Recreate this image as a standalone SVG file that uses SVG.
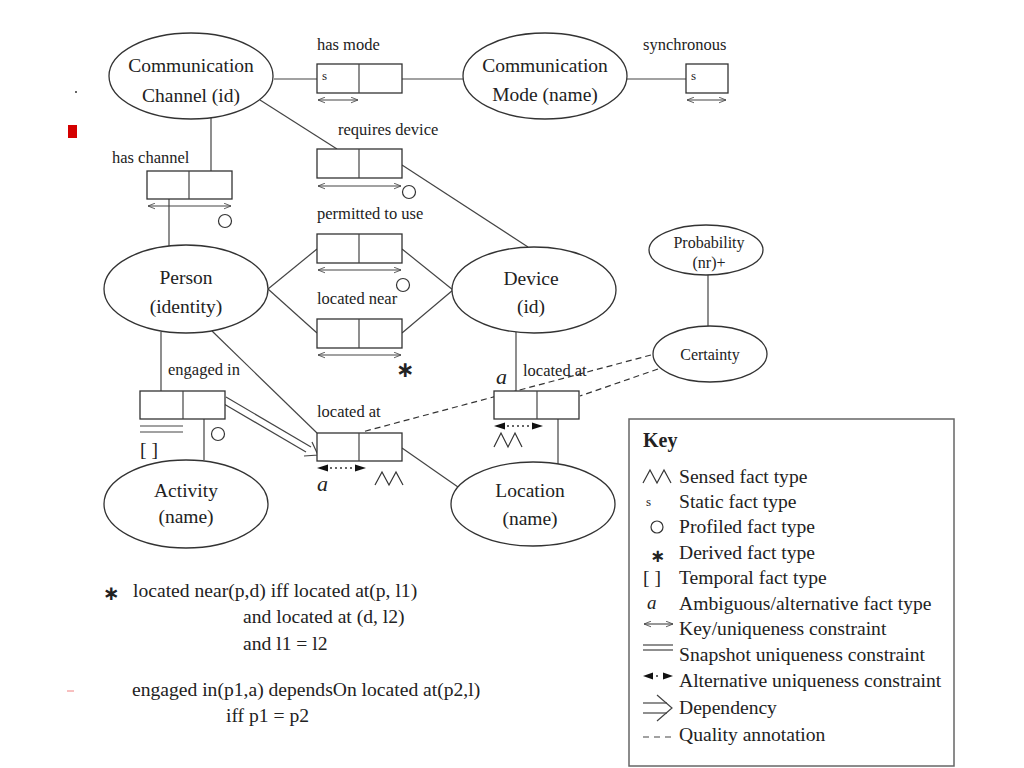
<svg xmlns="http://www.w3.org/2000/svg" width="1024" height="768" viewBox="0 0 1024 768">
<style>
  .ell{fill:#fff;stroke:#333;stroke-width:1.3}
  .box{fill:#fff;stroke:#333;stroke-width:1.3}
  .ln{fill:none;stroke:#444;stroke-width:1.2}
  .dash{fill:none;stroke:#333;stroke-width:1.2;stroke-dasharray:6,4}
  .et{font-family:"Liberation Serif","Times New Roman",serif;font-size:19.5px;fill:#222;text-anchor:middle}
  .lb{font-family:"Liberation Serif","Times New Roman",serif;font-size:16.5px;fill:#222}
  .sm{font-family:"Liberation Serif","Times New Roman",serif;font-size:13px;fill:#222}
  .kt{font-family:"Liberation Serif","Times New Roman",serif;font-size:19.6px;fill:#222}
  .it{font-family:"Liberation Serif","Times New Roman",serif;font-size:22px;font-style:italic;fill:#222}
  .ast{font-family:"DejaVu Sans",sans-serif;font-size:22px;font-weight:bold;fill:#222}
  .uq{fill:none;stroke:#444;stroke-width:1.1;marker-start:url(#oa);marker-end:url(#oa)}
  .zz{fill:none;stroke:#333;stroke-width:1.2}
  .dot{fill:none;stroke:#333;stroke-width:1.3;stroke-dasharray:2,3}
  .tri{fill:#111}
  .circ{fill:#fff;stroke:#333;stroke-width:1.2}
</style>
<defs>
  <marker id="oa" viewBox="0 0 10 10" refX="10" refY="5" markerWidth="9" markerHeight="7" markerUnits="userSpaceOnUse" orient="auto-start-reverse">
    <path d="M0,1 L10,5 L0,9" fill="none" stroke="#444" stroke-width="1.2"/>
  </marker>
</defs>
<rect width="1024" height="768" fill="#fff"/>

<!-- artifacts -->
<rect x="68" y="125" width="9" height="13" fill="#d40000"/>
<rect x="75" y="91" width="2" height="2" fill="#666"/>
<line x1="67" y1="691" x2="74" y2="691" stroke="#f08080" stroke-width="1"/>

<g id="connectors">
  <line class="ln" x1="274" y1="79" x2="317" y2="79"/>
  <line class="ln" x1="402" y1="79" x2="463" y2="79"/>
  <line class="ln" x1="627" y1="79" x2="686" y2="79"/>
  <line class="ln" x1="260" y1="100" x2="337" y2="149"/>
  <line class="ln" x1="402" y1="165" x2="528" y2="247"/>
  <line class="ln" x1="211" y1="117" x2="211" y2="171"/>
  <line class="ln" x1="169" y1="199" x2="169" y2="246"/>
  <line class="ln" x1="268" y1="289" x2="317" y2="249"/>
  <line class="ln" x1="268" y1="289" x2="317" y2="333"/>
  <line class="ln" x1="402" y1="249" x2="453" y2="290"/>
  <line class="ln" x1="402" y1="333" x2="453" y2="290"/>
  <line class="ln" x1="161" y1="332" x2="161" y2="391"/>
  <line class="ln" x1="204" y1="419" x2="204" y2="460"/>
  <line class="ln" x1="212" y1="331" x2="317" y2="433"/>
  <line class="ln" x1="402" y1="448" x2="458" y2="487"/>
  <line class="ln" x1="516" y1="332" x2="516" y2="391"/>
  <line class="ln" x1="558" y1="419" x2="558" y2="464"/>
  <line class="ln" x1="708" y1="275" x2="708" y2="326"/>
  <line class="dash" x1="651" y1="355" x2="362" y2="432"/>
  <line class="dash" x1="658" y1="369" x2="580" y2="396"/>
  <!-- dependency -->
  <line class="ln" x1="226" y1="397" x2="311" y2="447"/>
  <line class="ln" x1="224" y1="404" x2="306" y2="452"/>
  <polyline class="ln" points="312,442 318,455 304,456"/>
</g>

<g id="comm-channel">
  <ellipse class="ell" cx="191" cy="76" rx="82" ry="43"/>
  <text class="et" x="191" y="72">Communication</text>
  <text class="et" x="191" y="102">Channel (id)</text>
</g>
<g id="comm-mode">
  <ellipse class="ell" cx="545" cy="76" rx="82" ry="43"/>
  <text class="et" x="545" y="72">Communication</text>
  <text class="et" x="545" y="101">Mode (name)</text>
</g>
<g id="person">
  <ellipse class="ell" cx="186" cy="289" rx="82" ry="44"/>
  <text class="et" x="186" y="284">Person</text>
  <text class="et" x="186" y="313">(identity)</text>
</g>
<g id="device">
  <ellipse class="ell" cx="534" cy="290" rx="82" ry="43"/>
  <text class="et" x="531" y="285">Device</text>
  <text class="et" x="531" y="313">(id)</text>
</g>
<g id="activity">
  <ellipse class="ell" cx="186" cy="504" rx="82" ry="44"/>
  <text class="et" x="186" y="497">Activity</text>
  <text class="et" x="186" y="523">(name)</text>
</g>
<g id="location">
  <ellipse class="ell" cx="533" cy="504" rx="82" ry="42"/>
  <text class="et" x="530" y="497">Location</text>
  <text class="et" x="530" y="525">(name)</text>
</g>
<g id="probability">
  <ellipse class="ell" cx="706" cy="250" rx="57" ry="25"/>
  <text class="et" style="font-size:16px" x="709" y="248">Probability</text>
  <text class="et" style="font-size:16px" x="709" y="268">(nr)+</text>
</g>
<g id="certainty">
  <ellipse class="ell" cx="710" cy="354" rx="57" ry="28"/>
  <text class="et" style="font-size:16px" x="710" y="360">Certainty</text>
</g>

<g id="has-mode">
  <text class="lb" x="317" y="50">has mode</text>
  <rect class="box" x="317" y="64" width="85" height="29"/>
  <line class="ln" x1="359" y1="64" x2="359" y2="93"/>
  <text class="sm" x="322" y="80">s</text>
  <line class="uq" x1="318" y1="100" x2="358" y2="100"/>
</g>
<g id="synchronous">
  <text class="lb" x="643" y="50">synchronous</text>
  <rect class="box" x="686" y="64" width="42" height="29"/>
  <text class="sm" x="691" y="80">s</text>
  <line class="uq" x1="687" y1="100" x2="726" y2="100"/>
</g>
<g id="requires-device">
  <text class="lb" x="338" y="135">requires device</text>
  <rect class="box" x="317" y="149" width="85" height="29"/>
  <line class="ln" x1="359" y1="149" x2="359" y2="178"/>
  <line class="uq" x1="318" y1="186" x2="401" y2="186"/>
  <circle class="circ" cx="409" cy="192" r="6.5"/>
</g>
<g id="has-channel">
  <text class="lb" x="112" y="163">has channel</text>
  <rect class="box" x="147" y="171" width="85" height="28"/>
  <line class="ln" x1="189" y1="171" x2="189" y2="199"/>
  <line class="uq" x1="148" y1="206" x2="231" y2="206"/>
  <circle class="circ" cx="225" cy="221" r="6.5"/>
</g>
<g id="permitted-to-use">
  <text class="lb" x="317" y="219">permitted to use</text>
  <rect class="box" x="317" y="234" width="85" height="29"/>
  <line class="ln" x1="359" y1="234" x2="359" y2="263"/>
  <line class="uq" x1="318" y1="270" x2="401" y2="270"/>
  <circle class="circ" cx="403" cy="285" r="6.5"/>
</g>
<g id="located-near">
  <text class="lb" x="317" y="304">located near</text>
  <rect class="box" x="317" y="319" width="85" height="29"/>
  <line class="ln" x1="359" y1="319" x2="359" y2="348"/>
  <line class="uq" x1="318" y1="355" x2="401" y2="355"/>
  <text class="ast" x="396" y="377">∗</text>
</g>
<g id="engaged-in">
  <text class="lb" x="168" y="375">engaged in</text>
  <rect class="box" x="140" y="391" width="85" height="28"/>
  <line class="ln" x1="183" y1="391" x2="183" y2="419"/>
  <line class="ln" x1="140" y1="426" x2="183" y2="426"/>
  <line class="ln" x1="140" y1="432" x2="183" y2="432"/>
  <text class="kt" x="140" y="456">[ ]</text>
  <circle class="circ" cx="218" cy="434" r="6.5"/>
</g>
<g id="person-located-at">
  <text class="lb" x="317" y="417">located at</text>
  <rect class="box" x="317" y="433" width="85" height="28"/>
  <line class="ln" x1="359" y1="433" x2="359" y2="461"/>
  <polygon class="tri" points="317,468 328,464.5 328,471.5"/>
  <polygon class="tri" points="366,468 355,464.5 355,471.5"/>
  <line class="dot" x1="330" y1="468" x2="354" y2="468"/>
  <text class="it" x="317" y="491">a</text>
  <path class="zz" d="M375,485 L382,472 L389,485 L396,472 L403,485"/>
</g>
<g id="device-located-at">
  <text class="lb" x="523" y="376">located at</text>
  <text class="it" x="496" y="384">a</text>
  <rect class="box" x="494" y="391" width="85" height="28"/>
  <line class="ln" x1="537" y1="391" x2="537" y2="419"/>
  <polygon class="tri" points="494,426 505,422.5 505,429.5"/>
  <polygon class="tri" points="543,426 532,422.5 532,429.5"/>
  <line class="dot" x1="507" y1="426" x2="531" y2="426"/>
  <path class="zz" d="M494,447 L501,433 L508,447 L515,433 L522,447"/>
</g>

<g id="key">
  <rect x="629" y="419" width="325" height="347" fill="#fff" stroke="#666" stroke-width="1.5"/>
  <text class="kt" style="font-weight:bold;font-size:20px" x="643" y="447">Key</text>
  <path class="zz" d="M643,483 L650,470 L657,483 L664,470 L671,483"/>
  <text class="kt" x="679" y="483">Sensed fact type</text>
  <text class="sm" x="646" y="506">s</text>
  <text class="kt" x="679" y="508">Static fact type</text>
  <circle class="circ" cx="657" cy="527" r="6"/>
  <text class="kt" x="679" y="533">Profiled fact type</text>
  <text class="ast" style="font-size:18px" x="650" y="562">∗</text>
  <text class="kt" x="679" y="559">Derived fact type</text>
  <text class="kt" x="643" y="584">[ ]</text>
  <text class="kt" x="679" y="584">Temporal fact type</text>
  <text class="it" style="font-size:19px" x="647" y="609">a</text>
  <text class="kt" x="679" y="610">Ambiguous/alternative fact type</text>
  <line class="uq" x1="644" y1="624" x2="673" y2="624"/>
  <text class="kt" x="679" y="635">Key/uniqueness constraint</text>
  <line class="ln" x1="643" y1="645" x2="673" y2="645"/>
  <line class="ln" x1="643" y1="650" x2="673" y2="650"/>
  <text class="kt" x="679" y="661">Snapshot uniqueness constraint</text>
  <polygon class="tri" points="643,676 653,672.5 653,679.5"/>
  <polygon class="tri" points="673,676 663,672.5 663,679.5"/>
  <line class="dot" x1="656" y1="676" x2="660" y2="676"/>
  <text class="kt" x="679" y="687">Alternative uniqueness constraint</text>
  <line class="ln" x1="643" y1="703" x2="667" y2="703"/>
  <line class="ln" x1="643" y1="713" x2="667" y2="713"/>
  <polyline class="ln" points="657,695 672,708 657,721"/>
  <text class="kt" x="679" y="714">Dependency</text>
  <line class="ln" style="stroke-dasharray:6,5" x1="643" y1="737" x2="671" y2="737"/>
  <text class="kt" x="679" y="741">Quality annotation</text>
</g>

<g id="rules">
  <text class="ast" style="font-size:20px" x="103" y="600">∗</text>
  <text class="kt" x="133" y="597">located near(p,d) iff located at(p, l1)</text>
  <text class="kt" x="243" y="623">and located at (d, l2)</text>
  <text class="kt" x="243" y="650">and l1 = l2</text>
  <text class="kt" x="132" y="696">engaged in(p1,a) dependsOn located at(p2,l)</text>
  <text class="kt" x="226" y="722">iff p1 = p2</text>
</g>
</svg>
